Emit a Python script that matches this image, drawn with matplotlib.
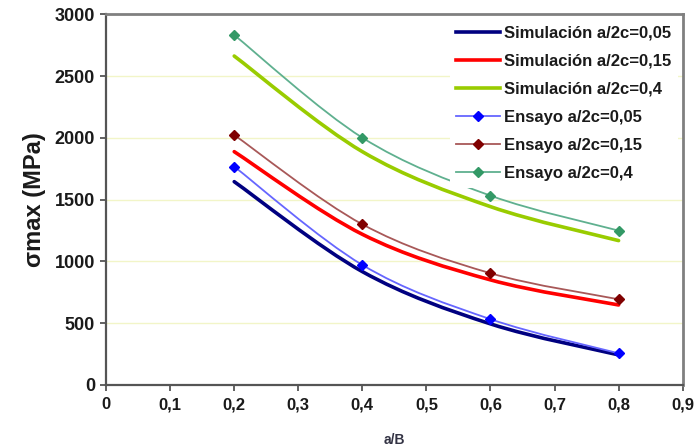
import matplotlib
matplotlib.use('Agg')
import matplotlib.pyplot as plt
from matplotlib.path import Path
from matplotlib.patches import PathPatch
from matplotlib.lines import Line2D

plt.rcParams['font.family'] = ['Liberation Sans', 'DejaVu Sans']

# data
ab = [0.2, 0.4, 0.6, 0.8]
sim_005 = [1645, 917, 494, 243]
sim_015 = [1888, 1219, 850, 647]
sim_04 = [2662, 1888, 1443, 1168]
ens_005 = [1767, 971, 532, 256]
ens_015 = [2023, 1300, 904, 693]
ens_04 = [2832, 2001, 1532, 1249]

labels = ['Simulación a/2c=0,05', 'Simulación a/2c=0,15', 'Simulación a/2c=0,4',
          'Ensayo a/2c=0,05', 'Ensayo a/2c=0,15', 'Ensayo a/2c=0,4']
xticks = [0, 0.1, 0.2, 0.3, 0.4, 0.5, 0.6, 0.7, 0.8, 0.9]
yticks = [0, 500, 1000, 1500, 2000, 2500, 3000]


def smooth(ax, xs, ys, color, lw):
    # excel-like smoothed line: catmull-rom segments as bezier path
    n = len(xs)
    verts = [(xs[0], ys[0])]
    codes = [Path.MOVETO]
    for i in range(n - 1):
        x0, y0 = (xs[i - 1], ys[i - 1]) if i > 0 else (xs[i], ys[i])
        x1, y1 = xs[i], ys[i]
        x2, y2 = xs[i + 1], ys[i + 1]
        x3, y3 = (xs[i + 2], ys[i + 2]) if i + 2 < n else (x2, y2)
        c1 = (x1 + (x2 - x0) / 6, y1 + (y2 - y0) / 6)
        c2 = (x2 - (x3 - x1) / 6, y2 - (y3 - y1) / 6)
        verts += [c1, c2, (x2, y2)]
        codes += [Path.CURVE4] * 3
    ax.add_patch(PathPatch(Path(verts, codes), fc='none', ec=color, lw=lw,
                           capstyle='round', zorder=3))


fig = plt.figure(figsize=(6.98, 4.46), dpi=100)
ax = fig.add_axes([0.152, 0.137, 0.826, 0.831])

sim = [(sim_005, '#000080'), (sim_015, '#FF0000'), (sim_04, '#99CC00')]
ens = [(ens_005, '#6666FF', '#0000FF'), (ens_015, '#A85858', '#800000'),
       (ens_04, '#5FB08F', '#339966')]

for ys, c in sim:
    smooth(ax, ab, ys, c, 2.6)
for ys, lc, mc in ens:
    smooth(ax, ab, ys, lc, 1.3)
    ax.plot(ab, ys, ls='none', marker='D', ms=5.5, color=mc, zorder=4)

ax.set_xlim(0, 0.9)
ax.set_ylim(0, 3000)
ax.set_xticks(xticks)
ax.set_xticklabels([f'{t:g}'.replace('.', ',') for t in xticks])
ax.set_yticks(yticks)
ax.tick_params(length=4, width=1.3, color='#555555', labelcolor='#1a1a1a')
ax.tick_params(axis='x', labelsize=12, pad=5)
ax.tick_params(axis='y', labelsize=13, pad=4)
for lab in ax.get_xticklabels() + ax.get_yticklabels():
    lab.set_fontweight('bold')
ax.grid(axis='y', color='#F2F5C8', lw=1.0)
ax.set_axisbelow(True)
for s in ['left', 'bottom']:
    ax.spines[s].set_color('#555555')
    ax.spines[s].set_linewidth(1.6)
for s in ['top', 'right']:
    ax.spines[s].set_color('#808080')
    ax.spines[s].set_linewidth(2.0)

ax.set_ylabel('σmax (MPa)', fontsize=17, fontweight='bold', labelpad=6,
              color='#1a1a1a')
ax.set_xlabel('a/B', fontsize=10, fontweight='bold', labelpad=15,
              color='#333344')

handles = [Line2D([], [], color=c, lw=2.6) for _, c in sim]
handles += [Line2D([], [], color=lc, lw=1.3, marker='D', ms=5.5, mfc=mc, mec=mc)
            for _, lc, mc in ens]
leg = ax.legend(handles, labels, loc='upper right',
                prop={'weight': 'bold', 'size': 12}, frameon=True,
                fancybox=False, edgecolor='none', facecolor='white',
                framealpha=1, handlelength=2.6, handletextpad=0.25,
                borderaxespad=0.3, labelspacing=0.78)
for t in leg.get_texts():
    t.set_color('#1a1a1a')
leg.set_zorder(5)

fig.savefig('out.png', dpi=100)
